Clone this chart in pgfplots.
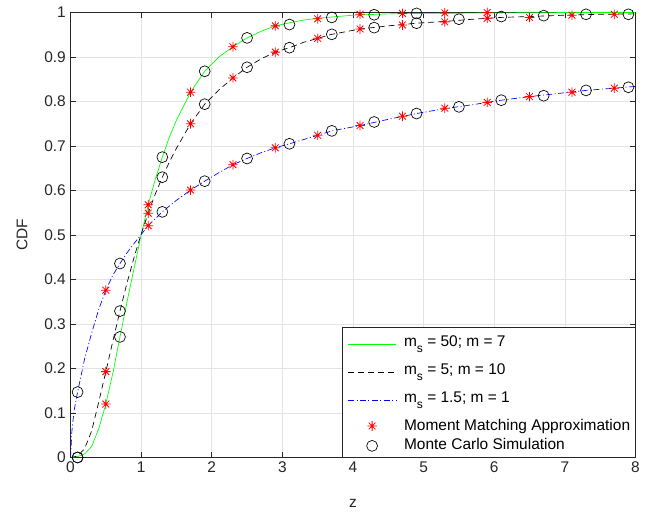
\documentclass[border=0pt]{standalone}
\usepackage{pgfplots}
\pgfplotsset{compat=1.18}
\usepackage{fontspec}
\setmainfont{Liberation Sans}

\pgfdeclareplotmark{mstar}{%
  \pgfpathmoveto{\pgfqpoint{0pt}{\pgfplotmarksize}}%
  \pgfpathlineto{\pgfqpoint{0pt}{-\pgfplotmarksize}}%
  \pgfpathmoveto{\pgfqpoint{\pgfplotmarksize}{0pt}}%
  \pgfpathlineto{\pgfqpoint{-\pgfplotmarksize}{0pt}}%
  \pgfpathmoveto{\pgfqpoint{0.707\pgfplotmarksize}{0.707\pgfplotmarksize}}%
  \pgfpathlineto{\pgfqpoint{-0.707\pgfplotmarksize}{-0.707\pgfplotmarksize}}%
  \pgfpathmoveto{\pgfqpoint{0.707\pgfplotmarksize}{-0.707\pgfplotmarksize}}%
  \pgfpathlineto{\pgfqpoint{-0.707\pgfplotmarksize}{0.707\pgfplotmarksize}}%
  \pgfusepathqstroke}

\newcommand{\sub}[1]{\raisebox{-4.6pt}{\fontsize{9}{10}\selectfont #1}}

\pgfplotsset{
  mmaleg/.style={legend image code/.code={\draw[##1] plot coordinates {(18pt,3.4pt)};}},
  mcleg/.style={legend image code/.code={\draw[##1] plot coordinates {(18pt,3pt)};}},
}

\pgfplotstableread{
x y
0 0
0.1 0.002
0.2 0.008
0.3 0.025
0.4 0.065
0.5 0.12
0.6 0.19
0.7 0.271
0.8 0.35
0.9 0.425
1.0 0.5
1.1 0.568
1.2 0.625
1.3 0.675
1.4 0.72
1.5 0.758
1.7 0.821
1.9 0.868
2.1 0.9
2.3 0.923
2.5 0.943
2.7 0.958
2.9 0.970
3.1 0.977
3.3 0.983
3.5 0.987
3.7 0.990
4.0 0.994
4.5 0.997
5.0 0.998
6.0 0.999
7.0 1.0
8.0 1.0
}\greenline

\pgfplotstableread{
x y
0 0
0.1 0.003
0.2 0.02
0.3 0.06
0.4 0.125
0.5 0.193
0.6 0.262
0.7 0.329
0.8 0.392
0.9 0.45
1.0 0.502
1.1 0.549
1.2 0.592
1.3 0.630
1.4 0.664
1.5 0.695
1.7 0.750
1.9 0.794
2.1 0.826
2.3 0.853
2.5 0.877
2.7 0.896
2.9 0.911
3.1 0.921
3.3 0.933
3.5 0.942
3.7 0.951
4.1 0.963
4.5 0.970
4.9 0.976
5.3 0.980
5.7 0.985
6.1 0.989
6.5 0.991
7.0 0.994
7.5 0.996
8.0 0.997
}\blackline

\pgfplotstableread{
x y
0 0
0.02 0.06
0.05 0.105
0.1 0.147
0.2 0.222
0.3 0.28
0.4 0.333
0.5 0.376
0.6 0.41
0.7 0.436
0.8 0.46
0.9 0.481
1.0 0.501
1.1 0.521
1.3 0.552
1.5 0.578
1.7 0.601
1.9 0.621
2.1 0.640
2.3 0.658
2.5 0.672
2.7 0.685
2.9 0.696
3.1 0.705
3.5 0.724
3.7 0.734
4.1 0.746
4.5 0.760
4.9 0.773
5.3 0.784
5.7 0.793
6.1 0.803
6.5 0.811
6.9 0.818
7.3 0.825
7.7 0.830
8.0 0.834
}\blueline

\pgfplotstableread{
x y
0.5 0.12
1.1 0.568
1.7 0.821
2.3 0.923
2.9 0.970
3.5 0.986
4.1 0.996
4.7 0.998
5.3 0.999
5.9 1.0
}\greenmma

\pgfplotstableread{
x y
0.1 0
0.7 0.271
1.3 0.675
1.9 0.868
2.5 0.943
3.1 0.973
3.7 0.989
4.3 0.995
4.9 0.998
}\greenmc

\pgfplotstableread{
x y
0.5 0.193
1.1 0.549
1.7 0.750
2.3 0.853
2.9 0.911
3.5 0.942
4.1 0.963
4.7 0.972
5.3 0.979
5.9 0.987
6.5 0.989
7.1 0.994
7.7 0.996
}\blackmma

\pgfplotstableread{
x y
0.1 0
0.7 0.329
1.3 0.630
1.9 0.794
2.5 0.877
3.1 0.921
3.7 0.951
4.3 0.966
4.9 0.976
5.5 0.985
6.1 0.991
6.7 0.993
7.3 0.996
7.9 0.996
}\blackmc

\pgfplotstableread{
x y
0.5 0.376
1.1 0.521
1.7 0.601
2.3 0.658
2.9 0.696
3.5 0.724
4.1 0.746
4.7 0.767
5.3 0.785
5.9 0.798
6.5 0.811
7.1 0.821
7.7 0.830
}\bluemma

\pgfplotstableread{
x y
0.1 0.147
0.7 0.436
1.3 0.552
1.9 0.621
2.5 0.672
3.1 0.705
3.7 0.734
4.3 0.754
4.9 0.773
5.5 0.788
6.1 0.803
6.7 0.813
7.3 0.825
7.9 0.832
}\bluemc

\begin{document}
\begin{tikzpicture}
\path[use as bounding box] (-52.9pt,-42.4pt) rectangle (442.15pt,343.15pt);
\begin{axis}[
  at={(0pt,0pt)}, anchor=south west,
  scale only axis, width=423.75pt, height=333.75pt,
  xmin=0, xmax=8, ymin=0, ymax=1,
  xtick={0,1,2,3,4,5,6,7,8},
  ytick={0,0.1,0.2,0.3,0.4,0.5,0.6,0.7,0.8,0.9,1},
  yticklabel style={/pgf/number format/fixed,/pgf/number format/precision=1},
  /pgf/number format/assume math mode=true,
  font=\fontsize{11.6}{13}\selectfont,
  tick label style={font=\fontsize{11.6}{13}\selectfont, text=black!85},
  label style={font=\fontsize{11.6}{13}\selectfont, text=black!85},
  grid=major,
  grid style={draw=gray!22, line width=0.4pt},
  axis line style={draw=black!85, line width=0.45pt},
  tick style={draw=black!85, line width=0.45pt},
  tick align=inside,
  major tick length=4.2pt,
  xlabel={z}, ylabel={CDF},
  x label style={at={(axis description cs:0.5,-0.1135)}, anchor=base},
  y label style={at={(axis description cs:-0.0858,0.5)}, anchor=center},
  legend image code/.code={\draw[mark repeat=2,mark phase=2,#1] plot coordinates {(0pt,2pt) (18pt,2pt) (36pt,2pt)};},
  legend style={at={(rel axis cs:1,0)}, anchor=south east,
    draw=black!85, line width=0.45pt, fill=white,
    font=\fontsize{11.6}{13}\selectfont, text=black,
    inner xsep=3.75pt, inner ysep=3.4pt,
    row sep=0pt, column sep=5.75pt,
    cells={anchor=base west},
    nodes={inner sep=0pt, text height=11.1pt}},
]
\addplot[color=green, draw=green, line width=0.5pt] table {\greenline};
\addlegendentry[text depth=9.9pt]{m\sub{s} = 50; m = 7}
\addplot[color=black, draw=black, line width=0.5pt, dash pattern=on 4.5pt off 3pt] table {\blackline};
\addlegendentry[text depth=9.9pt]{m\sub{s} = 5; m = 10}
\addplot[color=blue, draw=blue, line width=0.5pt, dash pattern=on 4.5pt off 1.8pt on 0.8pt off 1.8pt] table {\blueline};
\addlegendentry[text depth=9.9pt]{m\sub{s} = 1.5; m = 1}
\addplot[only marks, color=red, draw=red, mark=mstar, mark size=3.6pt, mark options={line width=0.6pt}, mmaleg] table {\greenmma};
\addlegendentry[text depth=3.4pt]{Moment Matching Approximation}
\addplot[only marks, color=black, draw=black, mark=o, mark size=4.1pt, mark options={line width=0.5pt}, mcleg] table {\greenmc};
\addlegendentry[text depth=2.1pt]{Monte Carlo Simulation}
\addplot[only marks, color=red, draw=red, mark=mstar, mark size=3.6pt, mark options={line width=0.6pt}, forget plot] table {\blackmma};
\addplot[only marks, color=red, draw=red, mark=mstar, mark size=3.6pt, mark options={line width=0.6pt}, forget plot] table {\bluemma};
\addplot[only marks, color=black, draw=black, mark=o, mark size=4.1pt, mark options={line width=0.5pt}, forget plot] table {\blackmc};
\addplot[only marks, color=black, draw=black, mark=o, mark size=4.1pt, mark options={line width=0.5pt}, forget plot] table {\bluemc};
\end{axis}
\end{tikzpicture}
\end{document}
